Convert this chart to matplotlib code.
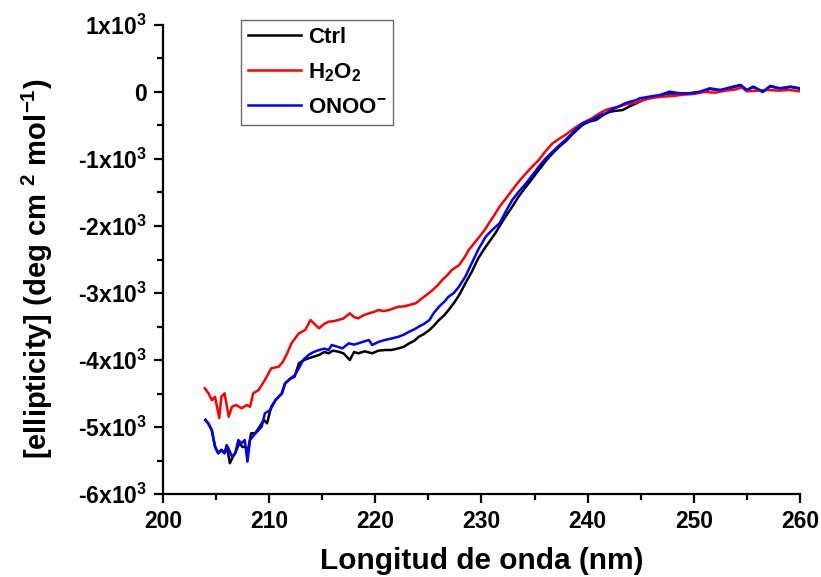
import matplotlib
matplotlib.use('Agg')
import matplotlib.pyplot as plt
from matplotlib.ticker import MultipleLocator, FuncFormatter

# wavelength (nm) / ellipticity readings per sample
ctrl_x = [204.0, 204.3, 204.6, 204.9, 205.2, 205.5, 205.8, 206.0, 206.3, 206.6, 206.8, 207.2, 207.5, 207.7,
          208.0, 208.3, 208.7, 209.0, 209.5, 209.8, 210.2, 210.6, 211.2, 211.5, 212.0, 212.4, 212.8, 213.3,
          213.7, 214.2, 214.7, 215.2, 215.6, 216.0, 216.5, 217.0, 217.6, 218.0, 218.4, 219.0, 219.7, 220.3,
          220.9, 221.5, 222.2, 222.7, 223.2, 223.7, 224.1, 224.6, 225.1, 225.5, 226.0, 226.5, 226.9, 227.4,
          227.9, 228.5, 229.1, 229.7, 230.4, 231.3, 232.1, 232.9, 233.5, 234.2, 234.8, 235.4, 236.0, 236.7,
          237.3, 237.9, 238.7, 239.5, 240.2, 240.8, 241.5, 242.1, 242.7, 243.3, 244.0, 244.6, 245.3, 246.0,
          246.8, 247.7, 248.7, 249.6, 250.6, 251.5, 252.5, 253.7, 254.4, 255.0, 255.6, 256.5, 257.2, 258.1,
          259.1, 260.0]
ctrl_y = [-4900, -4950, -5050, -5290, -5390, -5340, -5390, -5270, -5540, -5440, -5390, -5240, -5300, -5290,
          -5350, -5095, -5090, -5020, -4896, -4945, -4697, -4600, -4500, -4350, -4280, -4250, -4050, -4000,
          -3975, -3950, -3925, -3880, -3900, -3860, -3875, -3900, -4000, -3880, -3900, -3870, -3900, -3860,
          -3851, -3850, -3826, -3800, -3751, -3710, -3652, -3610, -3552, -3490, -3403, -3330, -3254, -3150,
          -3030, -2850, -2680, -2480, -2309, -2109, -1900, -1711, -1560, -1412, -1290, -1164, -1040, -915,
          -820, -740, -610, -493, -440, -418, -340, -294, -280, -269, -210, -169, -110, -80,
          -55, -20, -30, -20, 0, 45, 25, 70, 100, 25, 75, 0, 85, 50,
          75, 50]

h2o2_x = [203.94, 204.3, 204.6, 204.9, 205.3, 205.5, 205.8, 206.2, 206.5, 206.9, 207.4, 207.9, 208.2, 208.5,
          209.0, 209.6, 210.2, 210.9, 211.3, 211.7, 212.1, 212.8, 213.4, 213.9, 214.2, 214.7, 215.2, 215.6,
          216.1, 216.5, 217.0, 217.6, 218.0, 218.4, 218.9, 219.4, 219.9, 220.3, 220.8, 221.3, 221.7, 222.2,
          222.7, 223.2, 223.8, 224.4, 224.9, 225.4, 225.9, 226.3, 226.8, 227.2, 227.9, 228.4, 228.8, 229.3,
          229.8, 230.3, 230.7, 231.2, 231.7, 232.3, 232.9, 233.5, 234.2, 234.8, 235.4, 236.0, 236.7, 237.3,
          237.9, 238.5, 239.2, 239.8, 240.4, 241.0, 241.7, 242.3, 242.9, 243.7, 244.6, 245.3, 246.0, 247.0,
          248.0, 249.0, 250.0, 251.0, 252.0, 253.0, 254.0, 254.5, 255.0, 256.0, 257.0, 258.0, 259.0, 260.0]
h2o2_y = [-4422, -4500, -4600, -4548, -4865, -4548, -4497, -4846, -4697, -4672, -4721, -4672, -4697, -4497,
          -4448, -4299, -4124, -4100, -4025, -3900, -3751, -3602, -3552, -3403, -3452, -3527, -3460, -3428,
          -3420, -3403, -3380, -3303, -3360, -3378, -3330, -3303, -3280, -3254, -3270, -3254, -3230, -3204,
          -3200, -3179, -3154, -3080, -3020, -2955, -2880, -2806, -2730, -2657, -2582, -2470, -2358, -2260,
          -2160, -2060, -1960, -1840, -1711, -1590, -1463, -1340, -1213, -1110, -1015, -890, -766, -700,
          -642, -570, -493, -440, -393, -330, -269, -240, -219, -180, -160, -120, -90, -70,
          -60, -40, -30, 0, -10, 20, 40, 70, 10, 20, 30, 20, 30, 10]

onoo_x = [204.0, 204.25, 204.6, 204.9, 205.2, 205.5, 205.8, 206.1, 206.5, 206.8, 207.1, 207.4, 207.7, 207.96,
          208.2, 208.7, 209.3, 209.6, 210.1, 210.6, 211.2, 211.5, 212.0, 212.4, 212.8, 213.2, 213.7, 214.2,
          214.7, 215.2, 215.6, 215.9, 216.4, 216.9, 217.5, 218.0, 218.4, 219.0, 219.4, 219.7, 220.3, 220.9,
          221.5, 222.2, 222.7, 223.2, 223.7, 224.1, 224.6, 225.1, 225.5, 226.0, 226.5, 226.9, 227.4, 227.9,
          228.5, 229.1, 229.7, 230.4, 231.0, 231.7, 232.3, 232.9, 233.5, 234.2, 234.8, 235.4, 236.0, 236.7,
          237.3, 237.9, 238.7, 239.5, 240.0, 240.4, 241.0, 241.7, 242.3, 242.9, 243.5, 244.0, 244.6, 244.9,
          245.8, 246.8, 247.7, 248.7, 249.6, 250.6, 251.5, 252.5, 253.7, 254.4, 255.0, 255.6, 256.5, 257.2,
          258.1, 259.1, 260.0]
onoo_y = [-4890, -4945, -5045, -5294, -5393, -5343, -5393, -5294, -5443, -5393, -5194, -5244, -5194, -5517,
          -5194, -5095, -4995, -4796, -4746, -4597, -4497, -4348, -4274, -4230, -4124, -4000, -3925, -3880,
          -3851, -3830, -3851, -3776, -3800, -3826, -3751, -3770, -3751, -3720, -3701, -3776, -3730, -3701,
          -3680, -3652, -3620, -3577, -3540, -3502, -3460, -3403, -3300, -3204, -3130, -3055, -3000, -2900,
          -2750, -2550, -2350, -2160, -2060, -1960, -1780, -1612, -1490, -1363, -1240, -1114, -1000, -890,
          -800, -716, -590, -468, -440, -418, -360, -318, -260, -219, -170, -145, -120, -94,
          -70, -45, 5, -20, -20, 5, 55, 30, 80, 105, 30, 80, 5, 90,
          55, 80, 55]

plt.rcParams['font.family'] = ['Liberation Sans', 'DejaVu Sans']
plt.rcParams['font.weight'] = 'bold'
plt.rcParams['mathtext.fontset'] = 'custom'
plt.rcParams['mathtext.rm'] = 'Liberation Sans:bold'
plt.rcParams['mathtext.bf'] = 'Liberation Sans:bold'
plt.rcParams['mathtext.it'] = 'Liberation Sans:bold:italic'
plt.rcParams['mathtext.default'] = 'rm'


def ytick_fmt(v, pos):
    if v == 0:
        return '0'
    return '%dx10$^{3}$' % int(round(v / 1000))


fig = plt.figure(figsize=(8.21, 5.77), dpi=100)
ax = fig.add_axes([0.1985, 0.1438, 0.7759, 0.8129])

ax.plot(ctrl_x, ctrl_y, color='black', linewidth=1.8, label='Ctrl')
ax.plot(h2o2_x, h2o2_y, color='red', linewidth=1.8, label='H$_2$O$_2$')
ax.plot(onoo_x, onoo_y, color='blue', linewidth=1.8, label='ONOO$^{-}$')

ax.set_xlim(200, 260)
ax.set_ylim(-6000, 1000)
ax.xaxis.set_major_locator(MultipleLocator(10))
ax.xaxis.set_minor_locator(MultipleLocator(5))
ax.yaxis.set_major_locator(MultipleLocator(1000))
ax.yaxis.set_minor_locator(MultipleLocator(500))
ax.yaxis.set_major_formatter(FuncFormatter(ytick_fmt))

for s in ['top', 'right']:
    ax.spines[s].set_visible(False)
for s in ['left', 'bottom']:
    ax.spines[s].set_linewidth(1.6)

ax.tick_params(which='major', direction='out', length=6.5, width=1.6, labelsize=16.5, pad=5)
ax.tick_params(which='minor', direction='out', length=4, width=1.6)

ax.set_xlabel('Longitud de onda (nm)', fontsize=21.5, fontweight='bold')
ax.set_ylabel('[ellipticity] (deg cm $^{2}$ mol$^{-1}$)', fontsize=21, fontweight='bold')
ax.xaxis.set_label_coords(0.5, -0.113)
ax.yaxis.set_label_coords(-0.17, 0.48)

leg = ax.legend(loc='upper left', bbox_to_anchor=(0.2935, 0.965), bbox_transform=fig.transFigure,
                fontsize=16, frameon=True, fancybox=False, handlelength=2.4, labelspacing=0.6,
                handletextpad=0.3, borderpad=0.3, borderaxespad=0)
leg.get_frame().set_edgecolor('#444444')
leg.get_frame().set_linewidth(1.0)

fig.savefig('out.png', dpi=100)
